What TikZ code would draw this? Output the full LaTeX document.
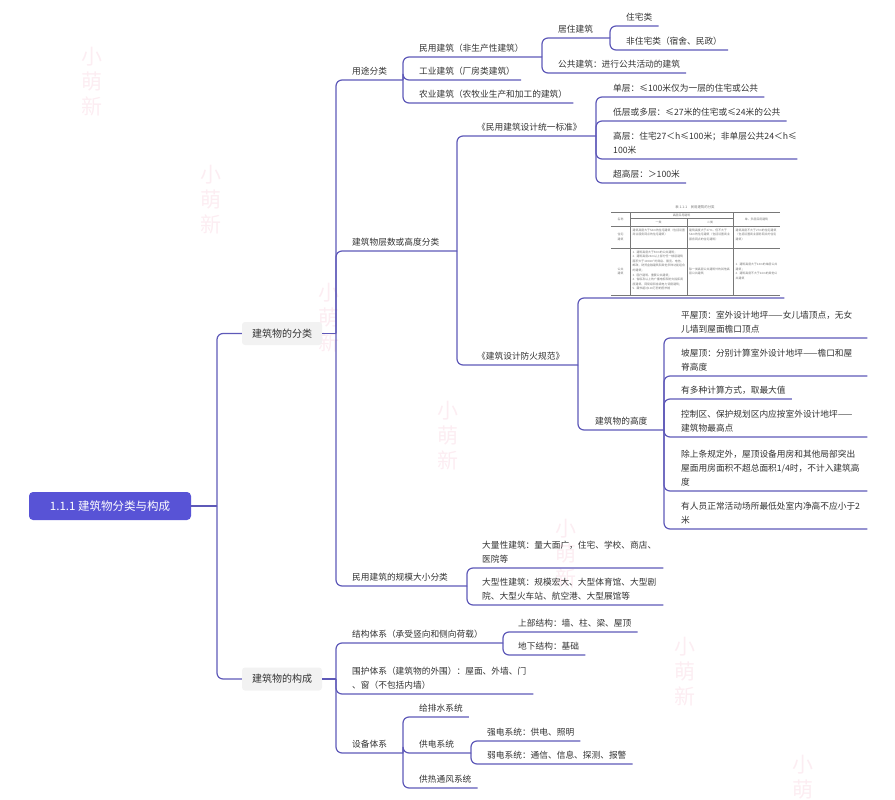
\documentclass[tikz,border=0pt]{standalone}
\usepackage{fontspec}
\setmainfont{Noto Sans CJK SC}
\usepackage{xcolor}
\usetikzlibrary{positioning,calc}

\definecolor{linkc}{RGB}{94,89,184}
\definecolor{rootc}{RGB}{88,83,214}
\definecolor{lvlc}{RGB}{242,242,242}
\definecolor{txtc}{RGB}{50,50,50}
\definecolor{markc}{RGB}{252,237,242}
\definecolor{tabc}{RGB}{120,120,120}

\tikzset{
  link/.style={draw=linkc, line width=1.2pt, rounded corners=6pt},
  topic/.style={anchor=south west, inner sep=0pt, align=left, text=txtc,
    font=\fontsize{8.7}{14}\selectfont,
    execute at end node={\rule[-5.5pt]{0pt}{1pt}}},
  wrap/.style={topic, text width=#1},
  lvl/.style={fill=lvlc, rounded corners=3pt, minimum width=80pt,
    minimum height=23pt, inner sep=0pt, text=txtc, font=\fontsize{10}{12}\selectfont},
  rootbox/.style={fill=rootc, rounded corners=4pt, minimum width=162pt,
    minimum height=28pt, text=white, font=\fontsize{11.5}{13}\selectfont},
  wmark/.style={text=markc, align=center, font=\fontsize{21}{25}\selectfont},
  cell/.style={inner sep=0pt, text=tabc, align=left,
    font=\fontsize{2.9}{4.6}\selectfont,
    execute at begin node={\XeTeXlinebreaklocale "zh"\relax}},
  tabline/.style={draw=tabc, line width=0.3pt},
}

\begin{document}
\begin{tikzpicture}[x=1pt,y=-1pt]
\useasboundingbox (0,0) rectangle (895,800);

% Watermark
\foreach \i in {0,...,6}
    \node[wmark] (wm\i) at ({92+118.5*\i},{82+118*\i}) {小\\萌\\新};

% Root and main branches
\node[rootbox] (root) at (110,506) {1.1.1 建筑物分类与构成};
\node[lvl] (fenlei) at (282,333.5) {建筑物的分类};
\node[lvl] (goucheng) at (282,679) {建筑物的构成};
\coordinate (rb) at (217,506);
\coordinate (fb) at (336,333.5);
\coordinate (gb) at (336,679);
\draw[link] (root.east) -- (rb);
\draw[link] (rb) |- (fenlei.west);
\draw[link] (rb) |- (goucheng.west);
\draw[link] (fenlei.east) -- (fb);
\draw[link] (goucheng.east) -- (gb);

% Use classification
\node[topic] (yongtu) at (352,80) {用途分类};
\node[topic] (minyong) at (419,57) {民用建筑（非生产性建筑）};
\node[topic] (juzhu) at (558,38) {居住建筑};
\node[topic] (zhuzhai) at (626,26) {住宅类};
\node[topic] (feizhuzhai) at (626,50) {非住宅类（宿舍、民政）};
\node[topic] (gonggong) at (558,73) {公共建筑：进行公共活动的建筑};
\node[topic] (gongye) at (419,80) {工业建筑（厂房类建筑）};
\node[topic] (nongye) at (419,103) {农业建筑（农牧业生产和加工的建筑）};
\coordinate (yongtu-b) at (403,80);
\coordinate (minyong-b) at (542,57);
\coordinate (juzhu-b) at (610,38);

% Storeys or height
\node[topic] (cengshu) at (352,251) {建筑物层数或高度分类};
\node[topic] (tongyi) at (477,136) {《民用建筑设计统一标准》};
\node[topic] (dan) at (613,97) {单层：≤100米仅为一层的住宅或公共};
\node[topic] (duo) at (613,121) {低层或多层：≤27米的住宅或≤24米的公共};
\node[wrap=178pt] (gao) at (613,159) {高层：住宅27＜h≤100米；非单层公共24＜h≤\\100米};
\node[topic] (chaogao) at (613,183) {超高层：＞100米};
\node[topic] (fanghuo) at (477,365) {《建筑设计防火规范》};
\node[inner sep=0pt, minimum width=169pt, minimum height=95pt, anchor=south west] (biao) at (611,298) {};
\node[topic] (gaodu) at (595,430) {建筑物的高度};
\node[wrap=180pt] (pingwu) at (681,338) {平屋顶：室外设计地坪——女儿墙顶点，无女\\儿墙到屋面檐口顶点};
\node[wrap=180pt] (powu) at (681,376) {坡屋顶：分别计算室外设计地坪——檐口和屋\\脊高度};
\node[topic] (duozhong) at (681,399) {有多种计算方式，取最大值};
\node[wrap=180pt] (kongzhi) at (681,437) {控制区、保护规划区内应按室外设计地坪——\\建筑物最高点};
\node[wrap=180pt] (chu) at (681,491) {除上条规定外，屋顶设备用房和其他局部突出\\屋面用房面积不超总面积1/4时，不计入建筑高\\度};
\node[wrap=180pt] (youren) at (681,529) {有人员正常活动场所最低处室内净高不应小于2\\米};
\coordinate (cengshu-b) at (457,251);
\coordinate (tongyi-b) at (596,136);
\coordinate (fanghuo-b) at (578,365);
\coordinate (gaodu-b) at (664,430);

% Scale
\node[topic] (guimo) at (352,586) {民用建筑的规模大小分类};
\node[wrap=175pt] (daliang) at (482,568) {大量性建筑：量大面广，住宅、学校、商店、\\医院等};
\node[wrap=175pt] (daxing) at (482,605) {大型性建筑：规模宏大、大型体育馆、大型剧\\院、大型火车站、航空港、大型展馆等};
\coordinate (guimo-b) at (467,586);

% Composition
\node[topic] (jiegou) at (352,643) {结构体系（承受竖向和侧向荷载）};
\node[topic] (shangbu) at (518,632) {上部结构：墙、柱、梁、屋顶};
\node[topic] (dixia) at (518,655) {地下结构：基础};
\node[wrap=175pt] (weihu) at (352,694) {围护体系（建筑物的外围）：屋面、外墙、门\\、窗（不包括内墙）};
\node[topic] (shebei) at (352,753) {设备体系};
\node[topic] (geipai) at (419,717) {给排水系统};
\node[topic] (gongdian) at (419,753) {供电系统};
\node[topic] (qiangdian) at (487,741) {强电系统：供电、照明};
\node[topic] (ruodian) at (487,764) {弱电系统：通信、信息、探测、报警};
\node[topic] (gongre) at (419,788) {供热通风系统};
\coordinate (jiegou-b) at (503,643);
\coordinate (shebei-b) at (403,753);
\coordinate (gongdian-b) at (471,753);

% Connectors to parents
\foreach \p/\c in {fb/yongtu-b, fb/cengshu-b, fb/guimo-b, yongtu-b/minyong-b,
    minyong-b/juzhu-b, cengshu-b/tongyi-b, cengshu-b/fanghuo-b, fanghuo-b/gaodu-b,
    gb/jiegou-b, gb/shebei-b, shebei-b/gongdian-b}
    \draw[link] (\p) |- (\c);

% Connectors to leaves
\foreach \p/\c in {juzhu-b/zhuzhai, juzhu-b/feizhuzhai, minyong-b/gonggong,
    yongtu-b/gongye, yongtu-b/nongye, tongyi-b/dan, tongyi-b/duo, tongyi-b/gao,
    tongyi-b/chaogao, gaodu-b/pingwu, gaodu-b/powu, gaodu-b/duozhong,
    gaodu-b/kongzhi, gaodu-b/chu, gaodu-b/youren, guimo-b/daliang, guimo-b/daxing,
    jiegou-b/shangbu, jiegou-b/dixia, gb/weihu, shebei-b/geipai, shebei-b/gongre,
    gongdian-b/qiangdian, gongdian-b/ruodian}
    \draw[link] (\p) |- ([xshift=6pt]\c.south east);
\draw[link] (fanghuo-b) |- ([xshift=4pt]biao.south east);

% Table picture
\node[cell, font=\fontsize{3.4}{4}\selectfont] (t0) at (695,207) {表 1.1-1　民用建筑的分类};
\draw[draw=tabc, line width=0.6pt] (611,212.5) -- (780,212.5);
\draw[draw=tabc, line width=0.6pt] (611,295.5) -- (780,295.5);
\draw[tabline] (630,218.5) -- (733,218.5);
\draw[tabline] (611,226) -- (780,226);
\draw[tabline] (611,248) -- (780,248);
\foreach \x in {630,733}
    \draw[tabline] (\x,212.5) -- (\x,295.5);
\draw[tabline] (687,218.5) -- (687,295.5);
\node[cell] (t1) at (620.5,219.5) {名称};
\node[cell] (t2) at (681.5,215.5) {高层民用建筑};
\node[cell] (t3) at (658.5,222.5) {一类};
\node[cell] (t4) at (710,222.5) {二类};
\node[cell] (t5) at (756.5,219.5) {单、多层民用建筑};
\node[cell, align=center] (t6) at (620.5,237) {住宅\\建筑};
\node[cell, align=center] (t7) at (620.5,271.5) {公共\\建筑};
\node[cell, text width=53pt, anchor=north west] (t8) at (632.5,228.5)
    {建筑高度大于54m的住宅建筑（包括设置商业服务网点的住宅建筑）};
\node[cell, text width=43pt, anchor=north west] (t9) at (689,228.5)
    {建筑高度大于27m，但不大于54m的住宅建筑（包括设置商业服务网点的住宅建筑）};
\node[cell, text width=43pt, anchor=north west] (t10) at (735.5,228.5)
    {建筑高度不大于27m的住宅建筑（包括设置商业服务网点的住宅建筑）};
\node[cell, text width=53pt, anchor=north west] (t11) at (632.5,250.5)
    {1. 建筑高度大于50m的公共建筑；\\2. 建筑高度24m以上部分任一楼层建筑面积大于1000m²的商店、展览、电信、邮政、财贸金融建筑和其他多种功能组合的建筑；\\3. 医疗建筑、重要公共建筑；\\4. 省级及以上的广播电视和防灾指挥调度建筑、网局级和省级电力调度建筑；\\5. 藏书超过100万册的图书馆};
\node[cell, text width=43pt, anchor=west] (t12) at (689,271.5)
    {除一类高层公共建筑外的其他高层公共建筑};
\node[cell, text width=43pt, anchor=west] (t13) at (735.5,271.5)
    {1. 建筑高度大于24m的单层公共建筑；\\2. 建筑高度不大于24m的其他公共建筑};
\end{tikzpicture}
\end{document}
